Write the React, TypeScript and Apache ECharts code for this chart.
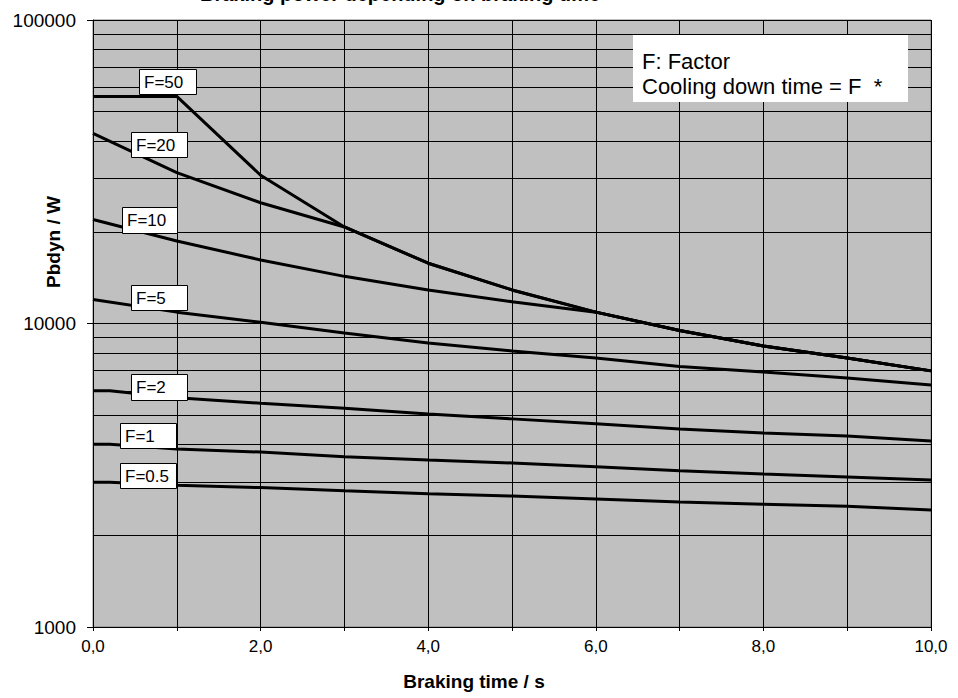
import React, { useEffect, useRef } from "react";
import * as echarts from "echarts";

// ---- data ----
const brakingTime = [0, 1, 2, 3, 4, 5, 6, 7, 8, 9, 10];
const brakingTimeLow = [0, 0.2, 1, 2, 3, 4, 5, 6, 7, 8, 9, 10];

const f50 = [56000, 56000, 30800, 20800, 15800, 12900, 10900, 9480, 8430, 7700, 6980];
const f20 = [42300, 31400, 25000, 20800, 15800, 12900, 10900, 9480, 8430, 7700, 6980];
const f10 = [22000, 18700, 16200, 14300, 12900, 11800, 10900, 9480, 8430, 7700, 6980];
const f5 = [12000, 10900, 10100, 9300, 8620, 8120, 7700, 7220, 6920, 6610, 6270];
const f2 = [6000, 6000, 5690, 5460, 5260, 5030, 4850, 4670, 4490, 4360, 4260, 4100];
const f1 = [4000, 4000, 3860, 3770, 3640, 3550, 3470, 3370, 3270, 3190, 3120, 3050];
const f05 = [3000, 3000, 2930, 2880, 2810, 2750, 2700, 2640, 2580, 2540, 2500, 2430];

const minorGridValues = [
  2000, 3000, 4000, 5000, 6000, 7000, 8000, 9000,
  20000, 30000, 40000, 50000, 60000, 70000, 80000, 90000,
];

const factorNames = ["F=50", "F=20", "F=10", "F=5", "F=2", "F=1", "F=0.5"];
const noteLines = ["F: Factor", "Cooling down time = F  *"];
const titleText = "Braking power depending on braking time";
const xName = "Braking time / s";
const yName = "Pbdyn / W";

// ---- layout (pixel positions of annotation boxes) ----
const labelBoxes = [
  { x: 139, y: 69, w: 57, h: 25 },
  { x: 131, y: 132, w: 56, h: 25 },
  { x: 122, y: 207, w: 55, h: 26 },
  { x: 131, y: 285, w: 56, h: 25 },
  { x: 131, y: 374, w: 56, h: 26 },
  { x: 120, y: 423, w: 56, h: 25 },
  { x: 120, y: 463, w: 56, h: 25 },
];

const FONT = "'Liberation Sans', Arial, Helvetica, sans-serif";

function pairs(xs: number[], ys: number[]) {
  return ys.map((v, i) => [xs[i], v]);
}

export default function App() {
  const ref = useRef<HTMLDivElement>(null);

  useEffect(() => {
    document.body.style.margin = "0";
    if (!ref.current) return;
    const chart = echarts.init(ref.current, undefined, { renderer: "svg" });

    const lineStyle = { color: "#000", width: 3 };
    const mk = (name: string, data: number[][], extra: any = {}) => ({
      name,
      type: "line",
      data,
      symbol: "none",
      showSymbol: false,
      lineStyle,
      itemStyle: { color: "#000" },
      z: 3,
      ...extra,
    });

    const graphics: any[] = [];
    // title (mostly cut off at the top edge, as in the reference)
    graphics.push({
      type: "text",
      x: 200,
      y: -6,
      z: 50,
      style: {
        text: titleText,
        font: `bold 20px ${FONT}`,
        fill: "#000",
        textVerticalAlign: "middle",
        verticalAlign: "middle",
      },
    });
    // note box
    graphics.push({
      type: "rect",
      z: 50,
      shape: { x: 633, y: 35, width: 275, height: 67 },
      style: { fill: "#fff", stroke: null },
    });
    noteLines.forEach((t, i) => {
      graphics.push({
        type: "text",
        z: 51,
        x: 642,
        y: 61 + i * 25,
        style: {
          text: t,
          font: `22px ${FONT}`,
          fill: "#000",
          verticalAlign: "middle",
          textVerticalAlign: "middle",
        },
      });
    });
    // factor labels
    factorNames.forEach((t, i) => {
      const b = labelBoxes[i];
      graphics.push({
        type: "rect",
        z: 50,
        shape: { x: b.x + 0.5, y: b.y + 0.5, width: b.w, height: b.h },
        style: { fill: "#fff", stroke: "#000", lineWidth: 1 },
      });
      graphics.push({
        type: "text",
        z: 51,
        x: b.x + 5,
        y: b.y + b.h / 2 + 0.5,
        style: {
          text: t,
          font: `17px ${FONT}`,
          fill: "#000",
          verticalAlign: "middle",
          textVerticalAlign: "middle",
        },
      });
    });
    // axis names
    graphics.push({
      type: "text",
      z: 50,
      x: 474,
      y: 681,
      style: {
        text: xName,
        font: `bold 19px ${FONT}`,
        fill: "#000",
        align: "center",
        textAlign: "center",
        verticalAlign: "middle",
        textVerticalAlign: "middle",
      },
    });
    graphics.push({
      type: "text",
      z: 50,
      x: 53,
      y: 242,
      rotation: Math.PI / 2,
      style: {
        text: yName,
        font: `bold 19px ${FONT}`,
        fill: "#000",
        align: "center",
        textAlign: "center",
        verticalAlign: "middle",
        textVerticalAlign: "middle",
      },
    });

    const option: any = {
      animation: false,
      backgroundColor: "#fff",
      textStyle: { fontFamily: FONT },
      grid: {
        left: 93,
        right: 27,
        top: 20,
        bottom: 71,
        show: true,
        backgroundColor: "#c0c0c0",
        borderColor: "#808080",
        borderWidth: 1,
        containLabel: false,
      },
      xAxis: {
        type: "value",
        min: 0,
        max: 10,
        interval: 1,
        axisLine: { show: true, lineStyle: { color: "#000", width: 1 } },
        axisTick: { show: true, length: 4, lineStyle: { color: "#000" } },
        axisLabel: {
          color: "#000",
          fontSize: 17,
          fontFamily: FONT,
          margin: 11,
          formatter: (v: number) =>
            Math.round(v) % 2 === 0 ? v.toFixed(1).replace(".", ",") : "",
        },
        splitLine: { show: true, lineStyle: { color: "#000", width: 1 } },
      },
      yAxis: {
        type: "log",
        logBase: 10,
        min: 1000,
        max: 100000,
        axisLine: { show: true, lineStyle: { color: "#000", width: 1 } },
        axisTick: { show: true, length: 6, lineStyle: { color: "#000" } },
        axisLabel: {
          color: "#000",
          fontSize: 19,
          fontFamily: FONT,
          margin: 17,
          formatter: (v: number) => String(Math.round(v)),
        },
        splitLine: { show: true, lineStyle: { color: "#000", width: 1 } },
        minorTick: { show: false },
      },
      series: [
        mk("F=50", pairs(brakingTime, f50), {
          markLine: {
            silent: true,
            symbol: ["none", "none"],
            label: { show: false },
            lineStyle: { color: "#000", width: 1, type: "solid" },
            z: 1,
            data: minorGridValues.map((v) => ({ yAxis: v })),
          },
        }),
        mk("F=20", pairs(brakingTime, f20)),
        mk("F=10", pairs(brakingTime, f10)),
        mk("F=5", pairs(brakingTime, f5)),
        mk("F=2", pairs(brakingTimeLow, f2)),
        mk("F=1", pairs(brakingTimeLow, f1)),
        mk("F=0.5", pairs(brakingTimeLow, f05)),
      ],
      graphic: graphics,
    };

    chart.setOption(option);
    return () => chart.dispose();
  }, []);

  return (
    <div
      ref={ref}
      style={{ position: "fixed", left: 0, top: 0, width: 958, height: 698, background: "#fff" }}
    />
  );
}
